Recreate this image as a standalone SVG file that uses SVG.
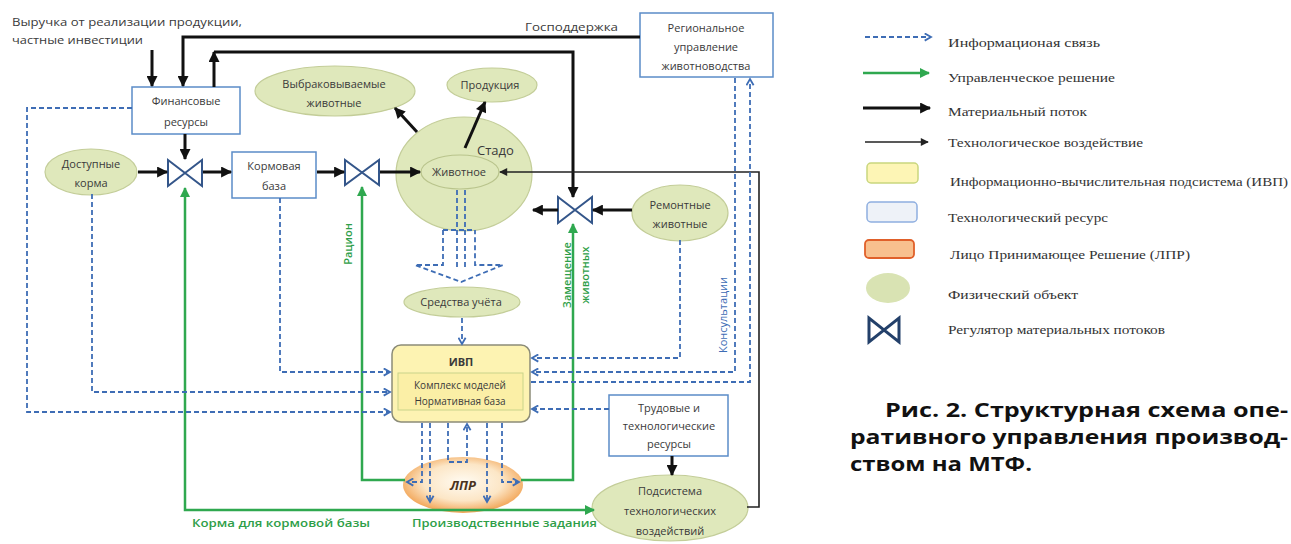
<svg xmlns="http://www.w3.org/2000/svg" width="1291" height="544" viewBox="0 0 1291 544">
<defs>
<style>
.t{font-family:"Open Sans","Noto Sans",sans-serif;font-size:11px;fill:#3a3a3a}
.c{text-anchor:middle}
.g{fill:#2e9e48;font-weight:600}
.bl{fill:#3e6db5}
.lg{font-family:"Liberation Serif",serif;font-size:13px;fill:#333}
.cap{font-family:"Open Sans","Noto Sans",sans-serif;font-size:20px;font-weight:700;fill:#111}
.box{fill:#fff;stroke:#5b8cc8;stroke-width:1.5}
.ell{fill:#dfe8bb;stroke:#c3cd98;stroke-width:1.2}
.reg{fill:#fff;stroke:#34568a;stroke-width:2}
.mat{fill:none;stroke:#111;stroke-width:3}
.tech{fill:none;stroke:#222;stroke-width:1.6}
.ctl{fill:none;stroke:#2fa84f;stroke-width:2.5}
.inf{fill:none;stroke:#3e6db5;stroke-width:1.8;stroke-dasharray:5 3}
</style>
<marker id="mB" markerUnits="userSpaceOnUse" viewBox="0 0 10 10" refX="9" refY="5" markerWidth="12" markerHeight="11" orient="auto"><path d="M0,0 L10,5 L0,10 z" fill="#111"/></marker>
<marker id="mT" markerUnits="userSpaceOnUse" viewBox="0 0 10 10" refX="9" refY="5" markerWidth="9" markerHeight="8" orient="auto"><path d="M0,0 L10,5 L0,10 z" fill="#222"/></marker>
<marker id="mG" markerUnits="userSpaceOnUse" viewBox="0 0 10 10" refX="9" refY="5" markerWidth="11" markerHeight="10" orient="auto"><path d="M0,0 L10,5 L0,10 z" fill="#2fa84f"/></marker>
<marker id="mI" markerUnits="userSpaceOnUse" viewBox="0 0 10 10" refX="8" refY="5" markerWidth="9" markerHeight="9" orient="auto"><path d="M1,1 L8,5 L1,9" fill="none" stroke="#3e6db5" stroke-width="2"/></marker>
<radialGradient id="gL" cx="50%" cy="45%" r="55%">
<stop offset="0" stop-color="#fffbf2"/><stop offset="0.6" stop-color="#fce6c6"/><stop offset="1" stop-color="#f2a455"/>
</radialGradient>
</defs>
<rect width="1291" height="544" fill="#fff"/>

<g id="labels">
<text class="t" x="12" y="26" textLength="230" lengthAdjust="spacingAndGlyphs">Выручка от реализации продукции,</text>
<text class="t" x="12" y="44" textLength="131" lengthAdjust="spacingAndGlyphs">частные инвестиции</text>
<text class="t" x="525" y="31" textLength="93" lengthAdjust="spacingAndGlyphs">Господдержка</text>
<text class="t g" x="192" y="527" textLength="178" lengthAdjust="spacingAndGlyphs">Корма для кормовой базы</text>
<text class="t g" x="412" y="527" textLength="185" lengthAdjust="spacingAndGlyphs">Производственные задания</text>
<text class="t g c" transform="translate(352,244) rotate(-90)">Рацион</text>
<text class="t g c" transform="translate(571,275) rotate(-90)">Замещение</text>
<text class="t g c" transform="translate(589,275) rotate(-90)">животных</text>
<text class="t bl c" transform="translate(727,315) rotate(-90)">Консультации</text>
</g>

<g id="fin">
<rect class="box" x="132" y="87" width="108" height="47"/>
<text class="t c" x="186" y="105">Финансовые</text>
<text class="t c" x="186" y="126">ресурсы</text>
</g>
<g id="region">
<rect class="box" x="640" y="13" width="133" height="64"/>
<text class="t c" x="706" y="32">Региональное</text>
<text class="t c" x="706" y="51">управление</text>
<text class="t c" x="706" y="70">животноводства</text>
</g>
<g id="korma">
<ellipse class="ell" cx="91" cy="172" rx="46" ry="23"/>
<text class="t c" x="91" y="168">Доступные</text>
<text class="t c" x="91" y="187">корма</text>
</g>
<g id="reg1"><path class="reg" d="M168,160 L168,186 L202,160 L202,186 Z"/></g>
<g id="baza">
<rect class="box" x="232" y="152" width="84" height="46"/>
<text class="t c" x="274" y="170">Кормовая</text>
<text class="t c" x="274" y="190">база</text>
</g>
<g id="reg2"><path class="reg" d="M345,160 L345,185 L379,160 L379,185 Z"/></g>
<g id="brak">
<ellipse class="ell" cx="335" cy="91" rx="80" ry="25"/>
<text class="t c" x="334" y="88">Выбраковываемые</text>
<text class="t c" x="334" y="107">животные</text>
</g>
<g id="prod">
<ellipse class="ell" cx="492" cy="85" rx="45" ry="17"/>
<text class="t c" x="490" y="89">Продукция</text>
</g>
<g id="stado">
<ellipse class="ell" cx="464" cy="174" rx="68" ry="57"/>
<text class="t" x="477" y="155" style="font-size:13px">Стадо</text>
<ellipse class="ell" cx="460" cy="172" rx="39" ry="17" style="stroke:#b9c48c"/>
<text class="t c" x="459" y="176">Животное</text>
</g>
<g id="reg3"><path class="reg" d="M558,197 L558,223 L592,197 L592,223 Z"/></g>
<g id="remont">
<ellipse class="ell" cx="680" cy="213" rx="48" ry="28"/>
<text class="t c" x="680" y="209">Ремонтные</text>
<text class="t c" x="680" y="228">животные</text>
</g>
<g id="uchet">
<ellipse class="ell" cx="462" cy="302" rx="58" ry="15"/>
<text class="t c" x="461" y="306">Средства учёта</text>
</g>
<g id="ivp">
<rect x="392" y="345" width="138" height="77" rx="9" fill="#fdf3b2" stroke="#8c8c78" stroke-width="1.5"/>
<text class="t c" x="461" y="366" style="font-weight:700">ИВП</text>
<rect x="398" y="373" width="125" height="37" fill="#fbefa6" stroke="#c9d48a" stroke-width="1"/>
<text class="t c" x="460" y="389" style="font-size:10px">Комплекс моделей</text>
<text class="t c" x="460" y="405" style="font-size:10px">Нормативная база</text>
</g>
<g id="lpr">
<ellipse cx="463" cy="485" rx="60" ry="28" fill="url(#gL)"/>
<text class="t c" x="463" y="490" style="font-size:13px;font-weight:700;font-style:italic;fill:#4a3320">ЛПР</text>
</g>
<g id="trud">
<rect class="box" x="609" y="395" width="119" height="61"/>
<text class="t c" x="669" y="412">Трудовые и</text>
<text class="t c" x="669" y="430">технологические</text>
<text class="t c" x="669" y="448">ресурсы</text>
</g>
<g id="podsys">
<ellipse class="ell" cx="670" cy="508" rx="78" ry="33"/>
<text class="t c" x="670" y="495">Подсистема</text>
<text class="t c" x="670" y="515">технологических</text>
<text class="t c" x="670" y="535">воздействий</text>
</g>

<g id="connectors">
<path class="mat" d="M152,50 V86" marker-end="url(#mB)"/>
<path class="mat" d="M640,37 H183 V86" marker-end="url(#mB)"/>
<path class="mat" d="M214,87 V52" marker-end="url(#mB)"/>
<path class="mat" d="M214,52 H573 V197" marker-end="url(#mB)"/>
<path class="mat" d="M185,134 V159" marker-end="url(#mB)"/>
<path class="mat" d="M138,172 H167" marker-end="url(#mB)"/>
<path class="mat" d="M203,172 H231" marker-end="url(#mB)"/>
<path class="mat" d="M317,172 H344" marker-end="url(#mB)"/>
<path class="mat" d="M380,172 H420" marker-end="url(#mB)"/>
<path class="mat" d="M417,132 L395,108" marker-end="url(#mB)"/>
<path class="mat" d="M465,148 L485,102" marker-end="url(#mB)"/>
<path class="mat" d="M632,210 H593" marker-end="url(#mB)"/>
<path class="mat" d="M558,210 H533" marker-end="url(#mB)"/>
<path class="mat" d="M672,456 V475" marker-end="url(#mB)"/>
<path class="tech" d="M747,507 H759 V172 H500" marker-end="url(#mT)"/>
<path class="ctl" d="M463,510 H185 V188" marker-end="url(#mG)"/>
<path class="ctl" d="M463,510 H594" marker-end="url(#mG)"/>
<path class="ctl" d="M405,480 H362 V187" marker-end="url(#mG)"/>
<path class="ctl" d="M521,480 H573 V224" marker-end="url(#mG)"/>
<path class="inf" d="M132,108 H27 V412 H390" marker-end="url(#mI)"/>
<path class="inf" d="M92,194 V392 H390" marker-end="url(#mI)"/>
<path class="inf" d="M280,198 V372 H390" marker-end="url(#mI)"/>
<path class="inf" d="M457,190 V268 M465,190 V268"/>
<path class="inf" d="M443,230 H475 M443,230 V265 H415 L461,282 L503,265 H475 V230"/>
<path class="inf" d="M462,318 V344" marker-end="url(#mI)"/>
<path class="inf" d="M680,240 V358 H532" marker-end="url(#mI)"/>
<path class="inf" d="M735,78 V372 H532" marker-end="url(#mI)"/>
<path class="inf" d="M531,382 H750 V79" marker-end="url(#mI)"/>
<path class="inf" d="M609,409 H532" marker-end="url(#mI)"/>
<path class="inf" d="M422,423 V482 H407" marker-end="url(#mI)"/>
<path class="inf" d="M430,423 V502" marker-end="url(#mI)"/>
<path class="inf" d="M448,423 V462 H467 V424" marker-end="url(#mI)"/>
<path class="inf" d="M487,423 V502" marker-end="url(#mI)"/>
<path class="inf" d="M502,423 V482 H519" marker-end="url(#mI)"/>
</g>

<g id="legend">
<path class="inf" d="M865,37 H931" marker-end="url(#mI)"/>
<text class="lg" x="948" y="47" textLength="152" lengthAdjust="spacingAndGlyphs">Информационая связь</text>
<path class="ctl" d="M863,73 H929" marker-end="url(#mG)"/>
<text class="lg" x="948" y="82" textLength="167" lengthAdjust="spacingAndGlyphs">Управленческое решение</text>
<path class="mat" d="M863,108 H930" marker-end="url(#mB)"/>
<text class="lg" x="948" y="116" textLength="139" lengthAdjust="spacingAndGlyphs">Материальный поток</text>
<path class="tech" d="M865,142 H928" marker-end="url(#mT)"/>
<text class="lg" x="948" y="147" textLength="195" lengthAdjust="spacingAndGlyphs">Технологическое воздействие</text>
<rect x="867" y="163" width="51" height="20" rx="4" fill="#fdf5b5" stroke="#c9d67e" stroke-width="1.5"/>
<text class="lg" x="950" y="186" textLength="338" lengthAdjust="spacingAndGlyphs">Информационно-вычислительная подсистема (ИВП)</text>
<rect x="867" y="202" width="50" height="20" rx="4" fill="#eef2f8" stroke="#8fafe0" stroke-width="1.5"/>
<text class="lg" x="948" y="222" textLength="160" lengthAdjust="spacingAndGlyphs">Технологический ресурс</text>
<rect x="865" y="240" width="49" height="18" rx="4" fill="#f8c08e" stroke="#e0602a" stroke-width="1.8"/>
<text class="lg" x="950" y="259" textLength="240" lengthAdjust="spacingAndGlyphs">Лицо Принимающее Решение (ЛПР)</text>
<ellipse cx="888" cy="288" rx="22" ry="15" fill="#d9e3b3"/>
<text class="lg" x="948" y="299" textLength="130" lengthAdjust="spacingAndGlyphs">Физический объект</text>
<path d="M869,318 L869,342 L899,318 L899,342 Z" fill="none" stroke="#23406a" stroke-width="3"/>
<text class="lg" x="948" y="334" textLength="217" lengthAdjust="spacingAndGlyphs">Регулятор материальных потоков</text>
</g>

<g id="caption">
<text class="cap" x="885" y="417" textLength="403" lengthAdjust="spacingAndGlyphs">Рис. 2. Структурная схема опе-</text>
<text class="cap" x="850" y="444" textLength="438" lengthAdjust="spacingAndGlyphs">ративного управления производ-</text>
<text class="cap" x="850" y="471" textLength="182" lengthAdjust="spacingAndGlyphs">ством на МТФ.</text>
</g>
</svg>
